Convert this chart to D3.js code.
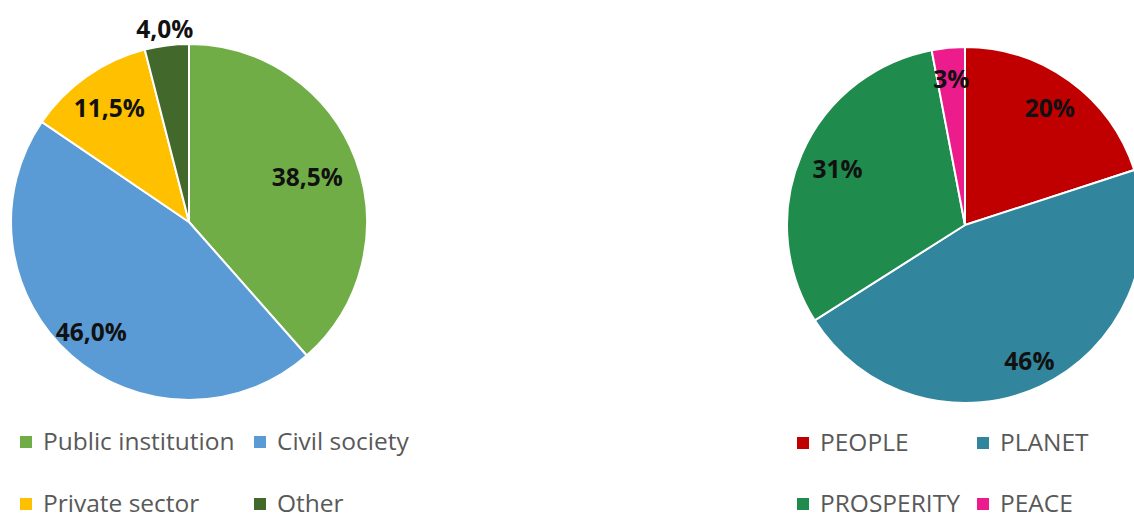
<!DOCTYPE html>
<html>
<head>
<meta charset="utf-8">
<script src="https://cdn.jsdelivr.net/npm/d3@7"></script>
<style>
  html, body { margin: 0; padding: 0; background: #fff; overflow: hidden; }
  svg { display: block; }
</style>
</head>
<body>
<svg id="chart" width="1134" height="519"></svg>
<script>
// ---- Data ----
const leftCategories = ["Public institution", "Civil society", "Private sector", "Other"];
const leftValues = [38.5, 46.0, 11.5, 4.0];
const leftColors = ["#70AD47", "#5B9BD5", "#FFC000", "#43682B"];

const rightCategories = ["PEOPLE", "PLANET", "PROSPERITY", "PEACE"];
const rightValues = [20, 46, 31, 3];
const rightColors = ["#C00000", "#31859C", "#1F8B4C", "#EC1C8C"];

// label radial placement (fraction of radius), per slice
const leftLabelRadius = [0.71, 0.83, 0.78, 1.09];
const rightLabelRadius = [0.81, 0.85, 0.78, 0.82];

const svg = d3.select("#chart");
const R = 178;

function fmtLeft(v) { return v.toFixed(1).replace(".", ",") + "%"; }
function fmtRight(v) { return Math.round(v) + "%"; }

function drawPie(cx, cy, values, colors, labelRadius, fmt) {
  const g = svg.append("g").attr("transform", `translate(${cx},${cy})`);
  const pie = d3.pie().sort(null).value(d => d);
  const arcs = pie(values);
  const arc = d3.arc().innerRadius(0).outerRadius(R);
  g.selectAll("path.slice").data(arcs).enter().append("path")
    .attr("class", "slice")
    .attr("d", arc)
    .attr("fill", (d, i) => colors[i])
    .attr("stroke", "#fff")
    .attr("stroke-width", 2)
    .attr("stroke-linejoin", "round");
  g.selectAll("text.lbl").data(arcs).enter().append("text")
    .attr("class", "lbl")
    .each(function(d, i) {
      const a = (d.startAngle + d.endAngle) / 2;
      const r = R * labelRadius[i];
      d3.select(this)
        .attr("x", Math.sin(a) * r)
        .attr("y", -Math.cos(a) * r)
        .attr("dy", "0.35em");
    })
    .attr("text-anchor", "middle")
    .attr("font-family", "'Open Sans', sans-serif")
    .attr("font-weight", "bold")
    .attr("font-size", 24.5)
    .attr("fill", "#111")
    .text(d => fmt(d.data));
}

function drawLegend(x0, colX, rowsY, cats, colors) {
  const g = svg.append("g");
  cats.forEach((c, i) => {
    const col = i % 2, row = Math.floor(i / 2);
    const x = x0 + colX[col], y = rowsY[row];
    g.append("rect")
      .attr("x", x).attr("y", y - 14)
      .attr("width", 12).attr("height", 12)
      .attr("fill", colors[i]);
    g.append("text")
      .attr("x", x + 23).attr("y", y)
      .attr("font-family", "'Open Sans', sans-serif")
      .attr("font-size", 24.5)
      .attr("fill", "#595959")
      .text(c);
  });
}

drawPie(189, 222, leftValues, leftColors, leftLabelRadius, fmtLeft);
drawPie(965, 225, rightValues, rightColors, rightLabelRadius, fmtRight);

drawLegend(20, [0, 234], [450, 512], leftCategories, leftColors);
drawLegend(797, [0, 180], [451, 512], rightCategories, rightColors);
</script>
</body>
</html>
